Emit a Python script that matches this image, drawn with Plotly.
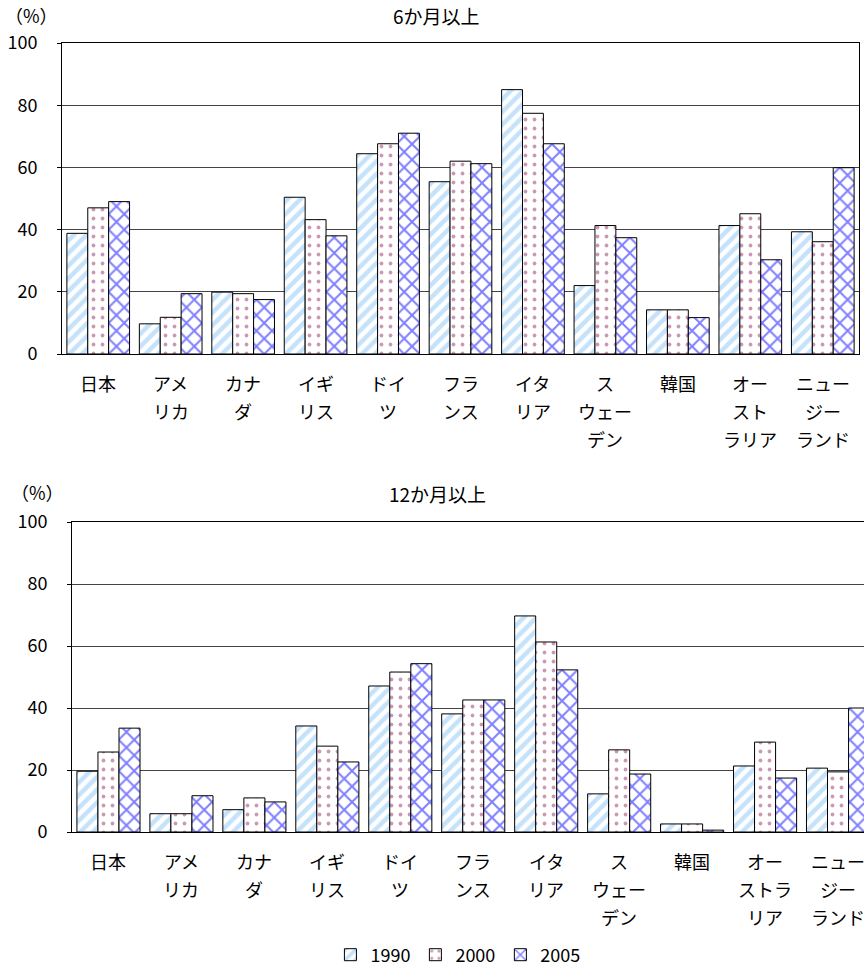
import plotly.graph_objects as go

categories = ["日本", "アメリカ", "カナダ", "イギリス", "ドイツ", "フランス",
              "イタリア", "スウェーデン", "韓国", "オーストラリア", "ニュージーランド"]
labels_6m = ["日本", "アメ<br>リカ", "カナ<br>ダ", "イギ<br>リス", "ドイ<br>ツ", "フラ<br>ンス",
             "イタ<br>リア", "ス<br>ウェー<br>デン", "韓国", "オー<br>スト<br>ラリア", "ニュー<br>ジー<br>ランド"]
labels_12m = ["日本", "アメ<br>リカ", "カナ<br>ダ", "イギ<br>リス", "ドイ<br>ツ", "フラ<br>ンス",
              "イタ<br>リア", "ス<br>ウェー<br>デン", "韓国", "オー<br>ストラ<br>リア", "ニュー<br>ジー<br>ランド"]
years = ["1990", "2000", "2005"]

m6_1990 = [38.8, 9.7, 19.9, 50.4, 64.4, 55.4, 85.0, 22.0, 14.2, 41.3, 39.3]
m6_2000 = [47.0, 11.8, 19.4, 43.2, 67.6, 62.0, 77.4, 41.3, 14.2, 45.1, 36.1]
m6_2005 = [49.0, 19.4, 17.5, 38.0, 71.0, 61.2, 67.6, 37.4, 11.7, 30.3, 59.9]

m12_1990 = [19.6, 5.9, 7.2, 34.2, 47.1, 38.1, 69.7, 12.3, 2.6, 21.3, 20.6]
m12_2000 = [25.8, 5.9, 11.0, 27.7, 51.6, 42.6, 61.3, 26.5, 2.6, 29.0, 19.4]
m12_2005 = [33.5, 11.7, 9.7, 22.6, 54.3, 42.6, 52.3, 18.7, 0.6, 17.4, 40.0]

FONT = "Noto Sans CJK JP, Noto Sans, sans-serif"
W, H = 864, 966

patterns = [
    dict(shape="/", fgcolor="#8cc6f8", bgcolor="white", size=9, solidity=0.5),
    dict(shape=".", fgcolor="#993366", bgcolor="white", size=9, solidity=0.14),
    dict(shape="x", fgcolor="#0000ff", bgcolor="white", size=11, solidity=0.33),
]

fig = go.Figure()
series6 = [m6_1990, m6_2000, m6_2005]
series12 = [m12_1990, m12_2000, m12_2005]
for i, yr in enumerate(years):
    fig.add_trace(go.Bar(x=categories, y=series6[i], name=yr, xaxis="x", yaxis="y",
                         marker=dict(color="white", pattern=patterns[i],
                                     line=dict(color="black", width=1)),
                         legendgroup=yr, showlegend=True))
for i, yr in enumerate(years):
    fig.add_trace(go.Bar(x=categories, y=series12[i], name=yr, xaxis="x2", yaxis="y2",
                         marker=dict(color="white", pattern=patterns[i],
                                     line=dict(color="black", width=1)),
                         legendgroup=yr, showlegend=False))

yax = dict(range=[0, 100], dtick=20, showgrid=True, gridcolor="#444444", gridwidth=1,
           showline=True, linecolor="black", linewidth=1, ticks="outside", ticklen=4,
           tickcolor="black", tickfont=dict(size=18, color="black", family=FONT),
           ticklabelstandoff=16, zeroline=False, fixedrange=True, automargin=False)

fig.update_layout(
    width=W, height=H,
    margin=dict(l=0, r=0, t=0, b=0, autoexpand=False),
    paper_bgcolor="white", plot_bgcolor="white",
    font=dict(family=FONT, color="black"),
    barmode="group", bargap=0.135, bargroupgap=0,
    xaxis=dict(domain=[62 / W, 859 / W], anchor="y", type="category",
               categoryorder="array", categoryarray=categories,
               range=[-0.5, 10.5], showticklabels=False, ticks="", automargin=False,
               showline=True, linecolor="black", linewidth=1, mirror=True, showgrid=False),
    yaxis=dict(domain=[1 - 354 / H, 1 - 43 / H], anchor="x", mirror=True, **yax),
    xaxis2=dict(domain=[72 / W, 1.0], anchor="y2", type="category",
                categoryorder="array", categoryarray=categories,
                range=[-0.5, 10.356], showticklabels=False, ticks="", automargin=False,
                showline=True, linecolor="black", linewidth=1, mirror=True, showgrid=False),
    yaxis2=dict(domain=[1 - 832 / H, 1 - 522 / H], anchor="x2", mirror=False, **yax),
    legend=dict(orientation="h", x=0.53, xanchor="center", y=1 - 955 / H, yanchor="middle",
                font=dict(size=18, family=FONT, color="black"), bgcolor="rgba(0,0,0,0)",
                itemwidth=30, tracegroupgap=0),
)

anns = []
for labels, xr, yr in [(labels_6m, "x", "y"), (labels_12m, "x2", "y2")]:
    for cat, lab in zip(categories, labels):
        for j, line in enumerate(lab.split("<br>")):
            anns.append(dict(x=cat, y=0, xref=xr, yref=yr, text=line, showarrow=False,
                             xanchor="center", yanchor="middle", yshift=-(29 + 28 * j),
                             font=dict(size=18, family=FONT, color="black")))

anns += [
    dict(x=436 / W, y=1 - 16 / H, xref="paper", yref="paper", text="6か月以上", showarrow=False,
         xanchor="center", yanchor="middle", font=dict(size=19, family=FONT, color="black")),
    dict(x=437 / W, y=1 - 493 / H, xref="paper", yref="paper", text="12か月以上", showarrow=False,
         xanchor="center", yanchor="middle", font=dict(size=19, family=FONT, color="black")),
    dict(x=31 / W, y=1 - 15 / H, xref="paper", yref="paper", text="（%）", showarrow=False,
         xanchor="center", yanchor="middle", font=dict(size=18, family=FONT, color="black")),
    dict(x=37 / W, y=1 - 492 / H, xref="paper", yref="paper", text="（%）", showarrow=False,
         xanchor="center", yanchor="middle", font=dict(size=18, family=FONT, color="black")),
]
fig.update_layout(annotations=anns)

fig.write_html("out.html", config={"displayModeBar": False})
